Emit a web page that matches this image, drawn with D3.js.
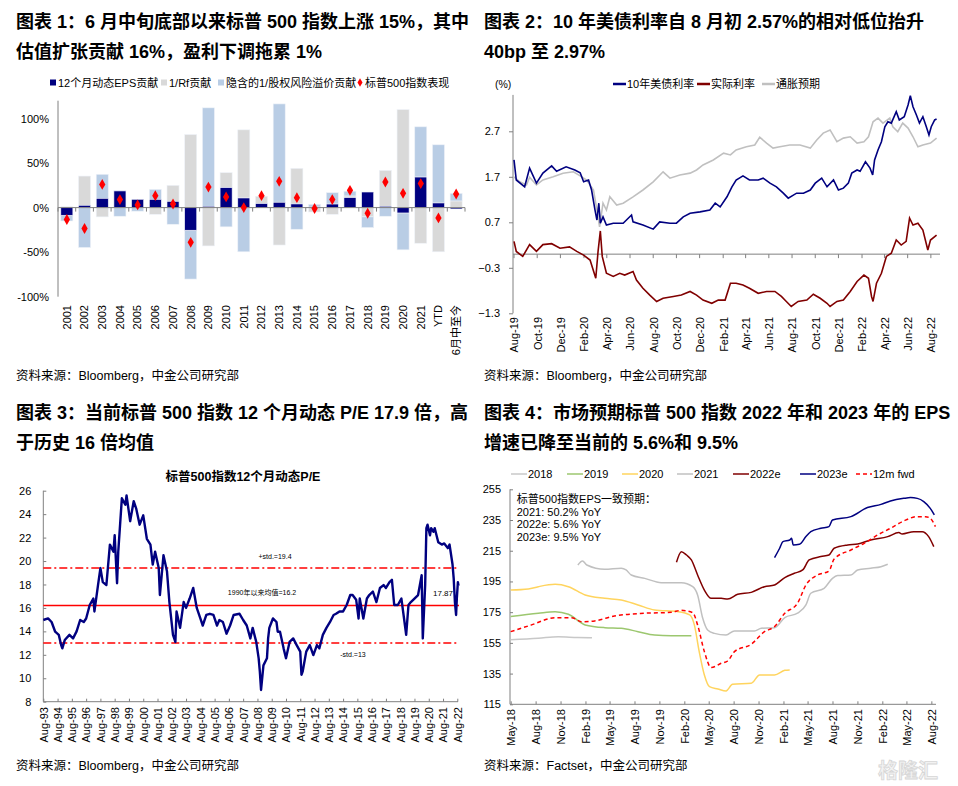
<!DOCTYPE html>
<html><head><meta charset="utf-8">
<script src="https://cdn.jsdelivr.net/npm/d3@7"></script>
<style>
body{margin:0;background:#fff}
svg text{font-family:"Liberation Sans","Noto Sans CJK SC",Arial,sans-serif;fill:#000}
</style></head>
<body><svg id="c" width="958" height="786"></svg>
<script>
// ---------------- DATA ----------------
// Panel 1
const p1Categories = ["2001","2002","2003","2004","2005","2006","2007","2008","2009","2010","2011","2012","2013","2014","2015","2016","2017","2018","2019","2020","2021","YTD","6月中至今"];
const p1EPS = [-8.6,2.6,10.4,18.7,9.3,9.3,7,-25.4,1.5,22.4,10.8,4.5,6,4.1,0.5,4,11.2,17.5,1.5,-6,34.3,5.2,-1.5];
const p1Rf  = [1,32.8,-10.4,0.7,0,-7.5,18,82,-43,16.8,76.5,8.2,-42,40,-4.9,-7.5,1.9,-10.4,40.3,110,-40,-49.6,7.5];
const p1ERP = [-6.4,-44.8,27,-9.7,-4,11.2,-18.7,-54.8,110.5,-21.6,-49.6,0,110.4,-24.3,3.2,12.8,5.3,-12,-9.7,-41.4,56.4,65.3,8.5];
const p1SPX = [-13.4,-23.5,26,9,3,13.4,4,-39,23,12,0,13.4,29.5,11.2,-1,9,19.4,-6.3,28.7,16,27,-11.6,15.3];
const p1YTicks = [-100,-50,0,50,100];
const p1Legend = ["12个月动态EPS贡献","1/Rf贡献","隐含的1/股权风险溢价贡献","标普500指数表现"];

// Panel 2
const p2UST10Y = [["2019-08-01",2.07],["2019-08-07",1.63],["2019-08-29",1.48],["2019-09-11",1.89],["2019-09-29",1.56],["2019-10-16",1.78],["2019-11-08",1.94],["2019-11-21",1.82],["2019-12-16",1.92],["2020-01-08",1.85],["2020-01-22",1.79],["2020-01-31",1.59],["2020-02-13",1.63],["2020-02-21",1.41],["2020-03-01",0.97],["2020-03-06",0.75],["2020-03-11",1.12],["2020-03-15",0.68],["2020-03-22",0.82],["2020-03-31",0.64],["2020-04-18",0.68],["2020-05-14",0.68],["2020-06-05",0.86],["2020-06-09",0.71],["2020-07-05",0.64],["2020-08-01",0.55],["2020-08-18",0.71],["2020-09-14",0.68],["2020-10-01",0.68],["2020-10-19",0.82],["2020-11-06",0.90],["2020-12-02",0.93],["2020-12-28",0.97],["2021-01-11",1.12],["2021-01-24",1.04],["2021-02-11",1.26],["2021-02-24",1.48],["2021-03-07",1.63],["2021-03-25",1.72],["2021-04-11",1.63],["2021-05-04",1.63],["2021-05-17",1.67],["2021-06-04",1.56],["2021-06-21",1.48],["2021-07-09",1.34],["2021-07-22",1.23],["2021-08-13",1.34],["2021-08-31",1.34],["2021-09-18",1.41],["2021-10-01",1.56],["2021-10-18",1.67],["2021-11-01",1.48],["2021-11-18",1.63],["2021-12-01",1.41],["2021-12-14",1.45],["2021-12-27",1.56],["2022-01-05",1.78],["2022-01-19",1.85],["2022-01-27",1.82],["2022-02-10",2.03],["2022-02-22",1.89],["2022-03-01",1.74],["2022-03-06",2.07],["2022-03-15",2.29],["2022-03-24",2.47],["2022-04-02",2.80],["2022-04-10",2.91],["2022-04-19",2.88],["2022-05-02",3.13],["2022-05-10",2.95],["2022-05-23",3.02],["2022-06-02",3.28],["2022-06-08",3.48],["2022-06-15",3.24],["2022-06-24",3.06],["2022-07-02",2.88],["2022-07-11",3.02],["2022-07-20",2.80],["2022-07-27",2.62],["2022-08-02",2.80],["2022-08-11",2.95],["2022-08-16",2.97]];
const p2Breakeven = [["2019-08-01",1.70],["2019-08-16",1.59],["2019-09-03",1.52],["2019-09-11",1.69],["2019-09-29",1.52],["2019-10-16",1.63],["2019-11-12",1.70],["2019-12-08",1.78],["2020-01-04",1.81],["2020-01-22",1.72],["2020-02-08",1.63],["2020-02-26",1.41],["2020-03-06",0.97],["2020-03-13",0.60],["2020-03-22",1.12],["2020-03-31",0.97],["2020-04-09",1.26],["2020-04-27",1.08],["2020-05-14",1.12],["2020-06-09",1.26],["2020-07-05",1.41],["2020-08-01",1.59],["2020-08-27",1.81],["2020-09-14",1.67],["2020-10-10",1.74],["2020-11-06",1.78],["2020-11-23",1.85],["2020-12-10",1.96],["2021-01-06",2.07],["2021-02-02",2.22],["2021-02-20",2.18],["2021-03-07",2.29],["2021-04-03",2.36],["2021-04-25",2.40],["2021-05-08",2.57],["2021-05-26",2.44],["2021-06-12",2.33],["2021-06-30",2.36],["2021-07-26",2.40],["2021-08-22",2.40],["2021-09-18",2.33],["2021-10-05",2.51],["2021-10-22",2.66],["2021-11-09",2.73],["2021-11-27",2.47],["2021-12-14",2.55],["2022-01-01",2.58],["2022-01-19",2.44],["2022-02-06",2.47],["2022-02-18",2.58],["2022-03-02",2.91],["2022-03-15",2.99],["2022-03-28",2.88],["2022-04-15",2.99],["2022-04-23",2.80],["2022-05-06",2.69],["2022-05-19",2.88],["2022-06-02",2.77],["2022-06-15",2.58],["2022-06-28",2.36],["2022-07-11",2.40],["2022-07-31",2.44],["2022-08-16",2.55]];
const p2RealRate = [["2019-08-01",0.28],["2019-08-07",0.06],["2019-08-24",-0.05],["2019-09-11",0.21],["2019-09-29",0.06],["2019-10-16",0.21],["2019-11-08",0.23],["2019-11-30",0.13],["2019-12-25",0.16],["2020-01-13",0.06],["2020-01-31",-0.02],["2020-02-17",-0.13],["2020-03-03",-0.53],["2020-03-09",0.06],["2020-03-15",0.51],["2020-03-20",-0.05],["2020-03-31",-0.42],["2020-04-18",-0.49],["2020-05-05",-0.42],["2020-05-18",-0.46],["2020-06-09",-0.38],["2020-06-18",-0.57],["2020-07-05",-0.75],["2020-07-23",-0.90],["2020-08-10",-1.04],["2020-08-27",-0.97],["2020-09-23",-0.93],["2020-10-14",-0.90],["2020-11-06",-0.82],["2020-11-23",-0.90],["2020-12-10",-1.01],["2021-01-02",-1.08],["2021-01-19",-1.01],["2021-02-06",-1.01],["2021-02-20",-0.64],["2021-03-07",-0.64],["2021-03-25",-0.68],["2021-04-11",-0.75],["2021-05-04",-0.86],["2021-05-26",-0.82],["2021-06-17",-0.82],["2021-07-04",-0.93],["2021-07-17",-1.04],["2021-07-30",-1.15],["2021-08-17",-1.04],["2021-09-09",-1.01],["2021-09-26",-0.88],["2021-10-14",-0.97],["2021-11-01",-1.08],["2021-11-09",-1.15],["2021-11-27",-1.04],["2021-12-14",-1.01],["2022-01-01",-0.82],["2022-01-19",-0.60],["2022-02-06",-0.46],["2022-02-18",-0.53],["2022-02-26",-0.93],["2022-03-02",-1.04],["2022-03-11",-0.64],["2022-03-24",-0.42],["2022-04-06",-0.05],["2022-04-19",0.02],["2022-05-02",0.31],["2022-05-15",0.20],["2022-05-28",0.28],["2022-06-06",0.79],["2022-06-15",0.64],["2022-06-28",0.68],["2022-07-11",0.53],["2022-07-24",0.09],["2022-07-31",0.31],["2022-08-16",0.42]];
const p2YTicks = [-1.3,-0.3,0.7,1.7,2.7];
const p2Legend = ["10年美债利率","实际利率","通胀预期"];

// Panel 3
const p3PE = [["1993-08-01",14.97],["1993-12-01",15.1],["1994-03-01",14.8],["1994-06-01",13.97],["1994-09-01",13.7],["1994-11-01",12.83],["1994-12-01",12.55],["1995-02-01",13.26],["1995-06-01",13.7],["1995-09-01",13.4],["1995-12-01",14.0],["1996-03-01",14.97],["1996-06-01",14.8],["1996-08-01",15.1],["1996-11-01",16.25],["1997-02-01",16.8],["1997-03-01",15.7],["1997-06-01",17.95],["1997-08-01",19.4],["1997-10-01",18.2],["1998-01-01",17.95],["1998-04-01",21.4],["1998-07-01",20.8],["1998-08-01",22.2],["1998-10-01",18.1],["1998-11-01",20.8],["1999-02-01",25.35],["1999-05-01",24.8],["1999-06-01",25.6],["1999-09-01",23.4],["1999-12-01",25.1],["2000-02-01",24.5],["2000-05-01",23.1],["2000-08-01",23.9],["2000-11-01",21.9],["2001-02-01",21.4],["2001-04-01",19.7],["2001-06-01",20.8],["2001-09-01",19.4],["2001-10-01",17.1],["2002-01-01",20.5],["2002-04-01",19.1],["2002-06-01",16.5],["2002-09-01",13.7],["2002-11-01",13.1],["2002-12-01",15.7],["2003-03-01",14.3],["2003-06-01",16.5],["2003-08-01",16.0],["2003-11-01",16.8],["2004-02-01",17.7],["2004-05-01",16.0],["2004-08-01",15.1],["2004-10-01",14.5],["2005-01-01",15.4],["2005-04-01",15.5],["2005-07-01",15.4],["2005-10-01",14.5],["2005-12-01",14.97],["2006-03-01",14.8],["2006-06-01",13.8],["2006-09-01",14.5],["2006-12-01",15.4],["2007-05-01",15.5],["2007-08-01",14.97],["2007-11-01",14.5],["2008-02-01",13.4],["2008-04-01",14.3],["2008-07-01",13.1],["2008-09-01",11.7],["2008-10-01",10.56],["2008-11-01",9.0],["2009-01-01",11.1],["2009-04-01",11.7],["2009-05-01",13.4],["2009-06-01",14.3],["2009-09-01",15.1],["2009-12-01",14.8],["2010-01-01",13.97],["2010-03-01",13.97],["2010-06-01",12.55],["2010-08-01",11.7],["2010-11-01",13.1],["2011-02-01",13.4],["2011-05-01",12.83],["2011-08-01",12.27],["2011-09-01",10.3],["2011-10-01",10.56],["2012-01-01",12.27],["2012-04-01",12.83],["2012-07-01",11.98],["2012-10-01",12.83],["2012-12-01",12.55],["2013-03-01",13.7],["2013-06-01",14.3],["2013-09-01",14.8],["2013-12-01",15.4],["2014-02-01",15.5],["2014-05-01",15.7],["2014-08-01",15.7],["2014-11-01",16.25],["2015-02-01",17.1],["2015-04-01",17.1],["2015-07-01",16.7],["2015-09-01",15.1],["2015-10-01",16.8],["2016-01-01",15.1],["2016-04-01",16.8],["2016-06-01",17.1],["2016-09-01",17.4],["2016-12-01",16.5],["2017-03-01",17.7],["2017-06-01",17.95],["2017-08-01",17.7],["2017-11-01",18.2],["2018-01-01",18.4],["2018-03-01",16.25],["2018-06-01",16.25],["2018-09-01",16.8],["2018-12-01",14.5],["2019-01-01",13.7],["2019-03-01",16.25],["2019-05-01",16.5],["2019-08-01",16.8],["2019-11-01",17.1],["2020-02-01",18.8],["2020-03-01",13.4],["2020-05-01",17.95],["2020-06-01",22.8],["2020-07-01",23.1],["2020-09-01",22.2],["2020-10-01",22.8],["2020-12-01",22.5],["2021-01-01",22.8],["2021-04-01",21.6],["2021-07-01",21.4],["2021-09-01",21.5],["2021-12-01",21.1],["2022-01-15",21.4],["2022-04-01",19.7],["2022-05-01",18.5],["2022-06-01",16.5],["2022-07-01",15.4],["2022-07-20",16.8],["2022-08-16",18.2],["2022-09-01",17.9]];
const p3Mean = 16.2, p3Upper = 19.4, p3Lower = 13;
const p3YTicks = [8,10,12,14,16,18,20,22,24,26];
const p3Labels = {upper:"+std.=19.4", mean:"1990年以来均值=16.2", last:"17.87", lower:"-std.=13"};

// Panel 4
const p4EPS2018 = [["2018-05-01",157],["2018-08-11",158],["2018-10-24",159],["2019-01-04",158.5],["2019-02-25",158.4]];
const p4EPS2019 = [["2018-05-01",172.1],["2018-08-11",174.3],["2018-10-12",175.3],["2018-11-30",173.6],["2019-01-31",166.7],["2019-04-13",164.9],["2019-06-13",164.5],["2019-08-14",162.3],["2019-10-14",160.1],["2019-12-15",159.7],["2020-02-27",159.7]];
const p4EPS2020 = [["2018-05-01",189.4],["2018-07-05",190.1],["2018-08-11",191.6],["2018-10-12",193.1],["2018-11-30",191.6],["2019-01-31",186.2],["2019-04-13",184],["2019-06-13",182.9],["2019-08-14",179.7],["2019-10-14",176.4],["2020-01-09",175.3],["2020-02-21",173.2],["2020-03-09",166.7],["2020-03-27",149.3],["2020-04-15",134.1],["2020-05-04",126.5],["2020-06-04",125],["2020-07-04",123.7],["2020-07-28",128],["2020-10-05",128.7],["2020-11-05",134.1],["2020-12-30",134.1],["2021-02-06",137.1],["2021-02-24",137.4]];
const p4EPS2021 = [["2019-01-04",205.7],["2019-01-21",208.3],["2019-02-06",205.7],["2019-04-13",202.9],["2019-06-13",203.6],["2019-07-01",202.5],["2019-07-20",199.2],["2019-09-08",197],["2019-11-08",194.2],["2020-01-21",194.2],["2020-03-03",191.6],["2020-03-21",186.2],["2020-04-09",171],["2020-04-27",163.4],["2020-05-22",161.2],["2020-07-04",160.1],["2020-08-04",162.8],["2020-10-17",162.8],["2020-11-11",164.5],["2020-12-30",164.9],["2021-02-06",171.5],["2021-03-25",174.3],["2021-04-25",179.7],["2021-05-13",187.3],["2021-07-01",190.5],["2021-08-01",197],["2021-08-20",198.8],["2021-10-08",199.2],["2021-11-02",202.5],["2021-12-20",203.6],["2022-01-27",204.6],["2022-02-21",206.2]];
const p4EPS2022e = [["2020-01-03",207.5],["2020-01-21",214.4],["2020-02-09",212.2],["2020-02-27",209],["2020-03-21",199.2],["2020-04-15",189.4],["2020-05-10",184],["2020-06-16",184],["2020-07-10",183.6],["2020-08-16",186.6],["2020-10-05",187.9],["2020-11-23",191.6],["2020-12-30",192.7],["2021-02-06",197.5],["2021-03-13",200.3],["2021-04-13",202.5],["2021-05-07",209],["2021-06-19",211.2],["2021-07-19",212.2],["2021-08-07",216.6],["2021-09-26",218.8],["2021-11-02",219.4],["2021-12-20",222],["2022-02-21",224.2],["2022-04-03",226.8],["2022-04-15",225.9],["2022-05-28",227.4],["2022-06-28",227.4],["2022-07-22",224.2],["2022-08-10",217.7]];
const p4EPS2023e = [["2020-12-30",210.5],["2021-01-18",216.6],["2021-01-30",220.9],["2021-02-24",222],["2021-03-03",223.1],["2021-03-09",218.8],["2021-04-01",219.2],["2021-04-25",224.2],["2021-05-13",227.4],["2021-06-19",229.6],["2021-07-19",230.7],["2021-08-01",235],["2021-10-08",237.2],["2021-12-08",243.1],["2022-01-27",245.2],["2022-03-03",247.4],["2022-04-21",249.1],["2022-05-16",249.6],["2022-06-10",249.1],["2022-07-04",247],["2022-07-28",242.6],["2022-08-12",238.3]];
const p4Fwd12m = [["2018-05-01",162.3],["2018-07-17",166.7],["2018-10-12",171.4],["2018-12-12",171.4],["2019-01-18",168.8],["2019-03-07",169.3],["2019-05-19",172.5],["2019-09-08",174.3],["2019-12-15",174.9],["2020-01-21",176.2],["2020-03-03",174.7],["2020-03-21",166.7],["2020-04-15",149.3],["2020-05-10",138.9],["2020-06-16",141.7],["2020-07-10",143.2],["2020-08-04",149.3],["2020-10-05",154.1],["2020-11-23",162.3],["2020-12-30",165.6],["2021-02-06",174.3],["2021-03-25",180.8],["2021-04-25",192.7],["2021-06-07",199.2],["2021-07-19",201.8],["2021-08-07",209.6],["2021-10-08",215.5],["2021-11-26",219.8],["2022-01-15",225.3],["2022-03-03",229.6],["2022-04-21",234.4],["2022-06-10",237.2],["2022-07-10",237.2],["2022-07-28",236.1],["2022-08-16",230.7]];
const p4YTicks = [115,135,155,175,195,215,235,255];
const p4Legend = ["2018","2019","2020","2021","2022e","2023e","12m fwd"];
const p4Notes = ["标普500指数EPS一致预期：","2021: 50.2% YoY","2022e: 5.6% YoY","2023e: 9.5% YoY"];

const titles = [
  ["图表 1：6 月中旬底部以来标普 500 指数上涨 15%，其中","估值扩张贡献 16%，盈利下调拖累 1%"],
  ["图表 2：10 年美债利率自 8 月初 2.57%的相对低位抬升","40bp 至 2.97%"],
  ["图表 3：当前标普 500 指数 12 个月动态 P/E 17.9 倍，高","于历史 16 倍均值"],
  ["图表 4：市场预期标普 500 指数 2022 年和 2023 年的 EPS","增速已降至当前的 5.6%和 9.5%"]
];
const sources = ["资料来源：Bloomberg，中金公司研究部","资料来源：Bloomberg，中金公司研究部","资料来源：Bloomberg，中金公司研究部","资料来源：Factset，中金公司研究部"];

// ---------------- DRAW ----------------
const svg = d3.select("#c");
const parse = d3.timeParse("%Y-%m-%d");
const prep = arr => arr.map(d => ({date: parse(d[0]), v: d[1]}));
const AX = "#808080";
const NAVY = "#000080", DRED = "#800000", LGREY = "#c0c0c0";

// titles & sources
const titlePos = [[16,28],[484,28],[16,419],[484,419]];
titles.forEach((ls,i)=>ls.forEach((t,j)=>svg.append("text").attr("x",titlePos[i][0]).attr("y",titlePos[i][1]+j*30)
  .attr("font-size",18).attr("font-weight","bold").text(t)));
const srcPos = [[16,380],[484,380],[16,770],[484,770]];
sources.forEach((t,i)=>svg.append("text").attr("x",srcPos[i][0]).attr("y",srcPos[i][1]).attr("font-size",12.5).text(t));

function vline(g,x,y1,y2){g.append("line").attr("x1",x).attr("x2",x).attr("y1",y1).attr("y2",y2).attr("stroke",AX).attr("stroke-width",1);}
function hline(g,y,x1,x2){g.append("line").attr("x1",x1).attr("x2",x2).attr("y1",y).attr("y2",y).attr("stroke",AX).attr("stroke-width",1);}
function styleAxis(g){g.select(".domain").remove(); g.selectAll("text").attr("font-size",11).attr("fill","#000").style("font-family",'"Liberation Sans","Noto Sans CJK SC",sans-serif');}
function rotLabels(g){g.selectAll("text").attr("transform","rotate(-90)").attr("text-anchor","end").attr("x",0).attr("y",0).attr("dy","0.35em");}

// ===== Panel 1 =====
{
  const g = svg.append("g");
  const x = d3.scaleBand().domain(p1Categories).range([58,465]).paddingInner(0.32).paddingOuter(0.16);
  const y = d3.scaleLinear().domain([-100,120]).range([296.7,100.7]);
  const rows = p1Categories.map((c,i)=>({cat:c, eps:p1EPS[i], rf:p1Rf[i], erp:p1ERP[i]}));
  const stack = d3.stack().keys(["eps","rf","erp"]).offset(d3.stackOffsetDiverging)(rows);
  const colors = {eps:NAVY, rf:"#d9d9d9", erp:"#b9cde5"};
  [stack[1],stack[2],stack[0]].forEach(s=>{
    g.selectAll(null).data(s).join("rect")
      .attr("x",d=>x(d.data.cat)).attr("width",x.bandwidth())
      .attr("y",d=>y(Math.max(d[0],d[1]))).attr("height",d=>Math.abs(y(d[0])-y(d[1])))
      .attr("fill",colors[s.key]).attr("stroke","#eef2f8").attr("stroke-width",0.6);
  });
  vline(g,58,100.7,296.7);
  const ya = g.append("g").attr("transform","translate(58,0)").call(d3.axisLeft(y).tickValues(p1YTicks).tickFormat(d=>d+"%").tickSize(0).tickPadding(9));
  styleAxis(ya); ya.selectAll("text").attr("fill",d=>d<0?"#ff0000":"#000");
  hline(g,y(0),58,465);
  d3.range(p1Categories.length+1).forEach(i=>{const xx=58+i*x.step(); g.append("line").attr("x1",xx).attr("x2",xx).attr("y1",y(0)).attr("y2",y(0)+4).attr("stroke",AX);});
  const xa = g.append("g").attr("transform","translate(0,305)").call(d3.axisBottom(x).tickSize(0));
  styleAxis(xa); rotLabels(xa);
  g.selectAll(null).data(p1SPX).join("path")
    .attr("d",d3.symbol(d3.symbolDiamond,34))
    .attr("transform",(d,i)=>`translate(${x(p1Categories[i])+x.bandwidth()/2},${y(d)})`)
    .attr("fill","#ff0000");
  const lg = g.append("g");
  const lx = [50,161,218,357];
  const lc = [NAVY,"#d9d9d9","#b9cde5","#ff0000"];
  p1Legend.forEach((t,i)=>{
    if(i<3) lg.append("rect").attr("x",lx[i]).attr("y",79.5).attr("width",6).attr("height",6).attr("fill",lc[i]);
    else lg.append("path").attr("d",d3.symbol(d3.symbolDiamond,22)).attr("transform",`translate(${lx[i]+3},82.5)`).attr("fill",lc[i]);
    lg.append("text").attr("x",lx[i]+8).attr("y",87).attr("font-size",11).text(t);
  });
}

// ===== Panel 2 =====
{
  const g = svg.append("g");
  const x = d3.scaleTime().domain([parse("2019-08-01"),parse("2022-08-25")]).range([514,940]);
  const y = d3.scaleLinear().domain([-1.3,3.5]).range([313.3,94.9]);
  vline(g,513,94.9,313.3);
  const ya = g.append("g").attr("transform","translate(513,0)").call(d3.axisLeft(y).tickValues(p2YTicks).tickFormat(d3.format(".1f")).tickSizeInner(4).tickSizeOuter(0).tickPadding(9));
  ya.selectAll("line").attr("stroke",AX);
  styleAxis(ya); ya.selectAll("text").attr("fill",d=>d<0?"#ff0000":"#000");
  hline(g,y(0),513,940);
  const tv = d3.range(19).map(i=>new Date(2019,7+2*i,1));
  tv.forEach(d=>g.append("line").attr("x1",x(d)).attr("x2",x(d)).attr("y1",y(0)).attr("y2",y(0)+4).attr("stroke",AX));
  const xa = g.append("g").attr("transform","translate(0,317)").call(d3.axisBottom(x).tickValues(tv).tickFormat(d3.timeFormat("%b-%y")).tickSize(0));
  styleAxis(xa); rotLabels(xa);
  const line = d3.line().x(d=>x(d.date)).y(d=>y(d.v));
  g.append("path").attr("d",line(prep(p2Breakeven))).attr("fill","none").attr("stroke",LGREY).attr("stroke-width",1.6);
  g.append("path").attr("d",line(prep(p2RealRate))).attr("fill","none").attr("stroke",DRED).attr("stroke-width",1.6);
  g.append("path").attr("d",line(prep(p2UST10Y))).attr("fill","none").attr("stroke",NAVY).attr("stroke-width",1.6);
  g.append("text").attr("x",495).attr("y",88).attr("font-size",10.5).text("(%)");
  const lcol = [NAVY,DRED,LGREY], lx=[613,697,762];
  p2Legend.forEach((t,i)=>{
    g.append("line").attr("x1",lx[i]).attr("x2",lx[i]+13).attr("y1",84).attr("y2",84).attr("stroke",lcol[i]).attr("stroke-width",2.5);
    g.append("text").attr("x",lx[i]+14).attr("y",88).attr("font-size",11).text(t);
  });
}

// ===== Panel 3 =====
{
  const g = svg.append("g");
  const x = d3.scaleTime().domain([parse("1993-08-01"),parse("2022-08-01")]).range([43.3,457.3]);
  const y = d3.scaleLinear().domain([8,26]).range([701.7,490.7]);
  g.append("text").attr("x",243).attr("y",481).attr("text-anchor","middle").attr("font-size",12.5).attr("font-weight","bold").text("标普500指数12个月动态P/E");
  vline(g,43.3,490.7,701.7); hline(g,701.7,43.3,458);
  const ya = g.append("g").attr("transform","translate(43.3,0)").call(d3.axisRight(y).tickValues(p3YTicks).tickSize(3));
  ya.selectAll("line").attr("stroke",AX);
  ya.selectAll("text").attr("x",-12).attr("text-anchor","end");
  styleAxis(ya);
  const tv = d3.range(1993,2023).map(yr=>new Date(yr,7,1));
  const xt = g.append("g").attr("transform","translate(0,701.7)").call(d3.axisTop(x).tickValues(tv).tickFormat("").tickSize(3));
  xt.selectAll("line").attr("stroke",AX); xt.select(".domain").remove();
  const xa = g.append("g").attr("transform","translate(0,707)").call(d3.axisBottom(x).tickValues(tv).tickFormat(d3.timeFormat("%b-%y")).tickSize(0));
  styleAxis(xa); rotLabels(xa);
  const hl = (v,dash)=>g.append("line").attr("x1",43.3).attr("x2",459).attr("y1",y(v)).attr("y2",y(v)).attr("stroke","#ff0000").attr("stroke-width",1.5).attr("stroke-dasharray",dash);
  hl(p3Mean,null); hl(p3Upper,"8,3,2,3"); hl(p3Lower,"8,3,2,3");
  const line = d3.line().x(d=>x(d.date)).y(d=>y(d.v));
  g.append("path").attr("d",line(prep(p3PE))).attr("fill","none").attr("stroke",NAVY).attr("stroke-width",2.4).attr("stroke-linejoin","round");
  g.append("text").attr("x",275).attr("y",559).attr("text-anchor","middle").attr("font-size",7).text(p3Labels.upper);
  g.append("text").attr("x",262).attr("y",594.5).attr("text-anchor","middle").attr("font-size",7).text(p3Labels.mean);
  g.append("text").attr("x",443).attr("y",596).attr("text-anchor","middle").attr("font-size",8).text(p3Labels.last);
  g.append("text").attr("x",353).attr("y",656.5).attr("text-anchor","middle").attr("font-size",7).text(p3Labels.lower);
}

// ===== Panel 4 =====
{
  const g = svg.append("g");
  const x = d3.scaleTime().domain([parse("2018-05-01"),parse("2022-08-20")]).range([510.7,936.5]);
  const y = d3.scaleLinear().domain([115,255]).range([704.3,489.3]);
  vline(g,510,489.3,704.3); hline(g,704.3,510,936);
  const ya = g.append("g").attr("transform","translate(510,0)").call(d3.axisRight(y).tickValues(p4YTicks).tickSize(3));
  ya.selectAll("line").attr("stroke",AX);
  ya.selectAll("text").attr("x",-9).attr("text-anchor","end");
  styleAxis(ya);
  const tv = d3.range(18).map(i=>new Date(2018,4+3*i,1));
  const xt = g.append("g").attr("transform","translate(0,704.3)").call(d3.axisTop(x).tickValues(tv).tickFormat("").tickSize(3));
  xt.selectAll("line").attr("stroke",AX); xt.select(".domain").remove();
  const xa = g.append("g").attr("transform","translate(0,709)").call(d3.axisBottom(x).tickValues(tv).tickFormat(d3.timeFormat("%b-%y")).tickSize(0));
  styleAxis(xa); rotLabels(xa);
  const series = [
    {d:p4EPS2018,c:"#c8c8c8",dash:null},
    {d:p4EPS2019,c:"#9cc76f",dash:null},
    {d:p4EPS2020,c:"#ffd45e",dash:null},
    {d:p4EPS2021,c:"#c0c0c0",dash:null},
    {d:p4EPS2022e,c:DRED,dash:null},
    {d:p4EPS2023e,c:NAVY,dash:null},
    {d:p4Fwd12m,c:"#ff0000",dash:"4,3"}
  ];
  const line = d3.line().x(d=>x(d.date)).y(d=>y(d.v)).curve(d3.curveMonotoneX);
  series.forEach(s=>g.append("path").attr("d",line(prep(s.d))).attr("fill","none").attr("stroke",s.c).attr("stroke-width",1.5).attr("stroke-dasharray",s.dash));
  const lx = [511,567,622,677,733,800,856];
  p4Legend.forEach((t,i)=>{
    g.append("line").attr("x1",lx[i]).attr("x2",lx[i]+16).attr("y1",474).attr("y2",474).attr("stroke",series[i].c).attr("stroke-width",1.5).attr("stroke-dasharray",series[i].dash);
    g.append("text").attr("x",lx[i]+17).attr("y",478).attr("font-size",11).text(t);
  });
  p4Notes.forEach((t,i)=>g.append("text").attr("x",516.7).attr("y",503+i*12.6).attr("font-size",11).text(t));
}

// watermark
svg.append("text").attr("x",908).attr("y",778).attr("text-anchor","middle").attr("font-size",20).attr("font-weight","bold")
  .style("fill","#f2f2f2").attr("stroke","#d6d6d6").attr("stroke-width",0.8).text("格隆汇");
</script></body></html>
